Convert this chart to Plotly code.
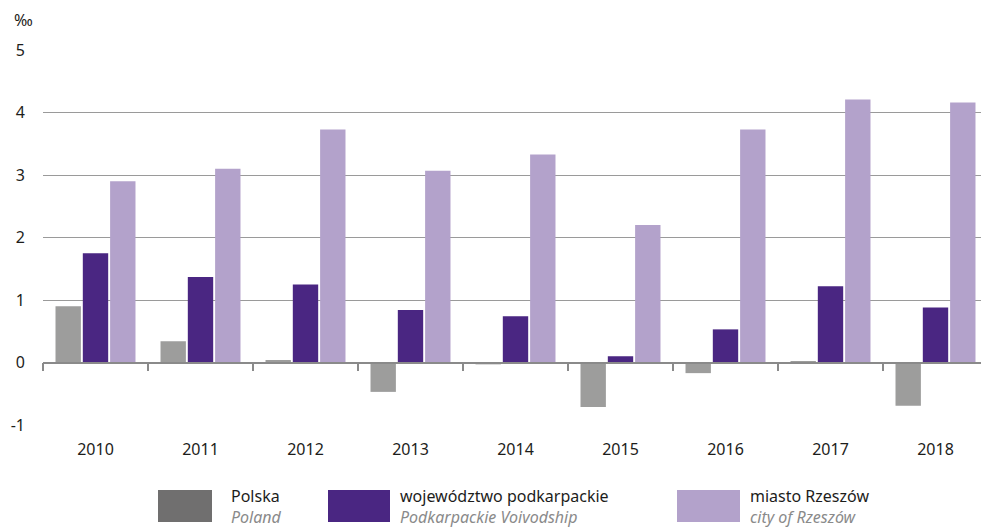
import plotly.graph_objects as go

years = ["2010", "2011", "2012", "2013", "2014", "2015", "2016", "2017", "2018"]
polska = [0.90, 0.34, 0.04, -0.47, -0.03, -0.71, -0.17, 0.01, -0.69]
podkarpackie = [1.75, 1.37, 1.25, 0.84, 0.74, 0.10, 0.53, 1.22, 0.88]
rzeszow = [2.90, 3.10, 3.73, 3.07, 3.33, 2.20, 3.73, 4.21, 4.16]
y_ticks = [-1, 0, 1, 2, 3, 4, 5]
y_tick_text = ["-1", "0", "1", "2", "3", "4", "5"]

names = [("Polska", "Poland"), ("województwo podkarpackie", "Podkarpackie Voivodship"),
         ("miasto Rzeszów", "city of Rzeszów")]
bar_colors = ["#9d9d9c", "#4a2682", "#b3a2cb"]
legend_colors = ["#706f6f", "#4a2682", "#b3a2cb"]

W, H = 981, 527
L, R, T, B = 43, 0, 50, 102
pw, ph = W - L - R, H - T - B

fig = go.Figure()
for (pl, en), vals, col in zip(names, [polska, podkarpackie, rzeszow], bar_colors):
    fig.add_trace(go.Bar(x=years, y=vals, name=pl, marker=dict(color=col, line=dict(width=0)),
                         showlegend=False))
# helper trace for the zero-line axis with boundary ticks
fig.add_trace(go.Scatter(x=years, y=[0] * len(years), xaxis="x2", mode="markers",
                         marker=dict(opacity=0), showlegend=False, hoverinfo="skip"))

font = "Noto Sans"
ncat = pw / 105.0
xrange = [-0.5, -0.5 + ncat]

fig.update_layout(
    width=W, height=H, margin=dict(l=L, r=R, t=T, b=B),
    plot_bgcolor="white", paper_bgcolor="white",
    barmode="group", bargap=0.22, bargroupgap=0.07,
    font=dict(family=font, size=16, color="#1d1d1b"),
    xaxis=dict(type="category", categoryarray=years, range=xrange, showgrid=False,
               showline=False, zeroline=False, ticks="", ticklabelstandoff=13,
               tickfont=dict(size=16)),
    xaxis2=dict(type="category", categoryarray=years, range=xrange, overlaying="x",
                anchor="free", position=1 / 6, side="bottom", tickson="boundaries",
                ticks="outside", ticklen=8, tickcolor="#8a8a8a", tickwidth=1.5,
                showticklabels=False, showline=True, linecolor="#8a8a8a", linewidth=1.5,
                showgrid=False, zeroline=False),
    yaxis=dict(range=[-1, 5], tickvals=y_ticks, ticktext=y_tick_text, showgrid=True,
               gridcolor="#9a9a9a", gridwidth=1, zeroline=False, showline=False, ticks="",
               ticklabelstandoff=17, tickfont=dict(size=16)),
)

fig.add_annotation(text="‰", xref="paper", yref="paper", x=-20 / pw, y=(T - 20) / ph + 1,
                   xanchor="center", yanchor="middle", showarrow=False,
                   font=dict(size=16, family=font, color="#1d1d1b"))

# custom legend
leg = [(158, 212, 229), (328, 390, 398), (677, 740, 748)]
for (x0, x1, tx), (pl, en), col in zip(leg, names, legend_colors):
    fig.add_shape(type="rect", xref="paper", yref="paper",
                  x0=(x0 - L) / pw, x1=(x1 - L) / pw,
                  y0=(T + ph - 522) / ph, y1=(T + ph - 490) / ph,
                  fillcolor=col, line=dict(width=0))
    fig.add_annotation(text=pl, xref="paper", yref="paper", x=(tx - L) / pw,
                       y=(T + ph - 496) / ph, xanchor="left", yanchor="middle",
                       showarrow=False, font=dict(size=16, family=font, color="#1d1d1b"))
    fig.add_annotation(text="<i>" + en + "</i>", xref="paper", yref="paper", x=(tx - L) / pw,
                       y=(T + ph - 517) / ph, xanchor="left", yanchor="middle",
                       showarrow=False, font=dict(size=16, family=font, color="#8a8a8a"))

fig.write_html("out.html", config={"displayModeBar": False},
               post_script="document.body.style.margin='0';document.body.style.overflow='hidden';")
